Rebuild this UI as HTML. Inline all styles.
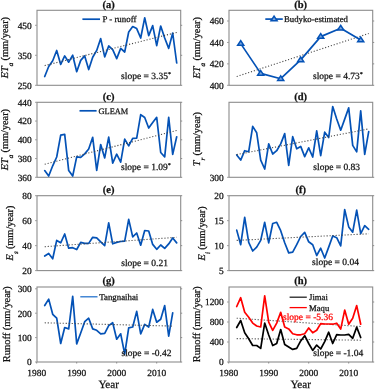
<!DOCTYPE html>
<html><head><meta charset="utf-8"><style>
html,body{margin:0;padding:0;background:#fff;}
svg{display:block;will-change:transform;}
text{font-family:"Liberation Serif", serif;fill:#111;stroke:#111;stroke-width:0.25px;text-rendering:geometricPrecision;}
</style></head><body>
<svg width="375" height="389" viewBox="0 0 375 389">
<rect width="375" height="389" fill="#fff"/>
<rect x="37.00" y="10.30" width="143.70" height="75.00" fill="none" stroke="#8c8c8c" stroke-width="1.1"/>
<line x1="35.20" y1="85.30" x2="36.70" y2="85.30" stroke="#8c8c8c" stroke-width="1"/>
<line x1="180.70" y1="85.30" x2="182.20" y2="85.30" stroke="#8c8c8c" stroke-width="1"/>
<text x="31.70" y="88.60" text-anchor="end" font-size="9.4">250</text>
<line x1="35.20" y1="55.30" x2="36.70" y2="55.30" stroke="#8c8c8c" stroke-width="1"/>
<line x1="180.70" y1="55.30" x2="182.20" y2="55.30" stroke="#8c8c8c" stroke-width="1"/>
<text x="31.70" y="58.60" text-anchor="end" font-size="9.4">350</text>
<line x1="35.20" y1="25.30" x2="36.70" y2="25.30" stroke="#8c8c8c" stroke-width="1"/>
<line x1="180.70" y1="25.30" x2="182.20" y2="25.30" stroke="#8c8c8c" stroke-width="1"/>
<text x="31.70" y="28.60" text-anchor="end" font-size="9.4">450</text>
<text x="108.70" y="7.50" text-anchor="middle" font-size="10.5" font-weight="bold">(a)</text>
<polyline points="44.70,76.50 48.70,66.50 52.70,60.80 56.70,50.50 60.70,64.40 64.70,55.90 68.70,62.20 72.70,55.20 76.70,71.70 80.70,60.40 84.70,55.90 88.70,69.60 92.70,57.30 96.70,50.40 100.70,38.60 104.70,56.90 108.70,46.00 112.70,49.60 116.70,58.60 120.70,48.40 124.70,52.00 128.70,32.00 132.70,26.60 136.70,28.60 140.70,38.00 144.70,17.80 148.70,35.60 152.70,25.60 156.70,45.60 160.70,26.00 164.70,38.00 168.70,48.40 172.70,33.00 176.70,63.00" fill="none" stroke="#0452b6" stroke-width="1.7" stroke-linejoin="round" stroke-linecap="round"/>
<line x1="44.70" y1="65.60" x2="176.70" y2="32.43" stroke="#444" stroke-width="1.1" stroke-dasharray="1.1 1.9"/>
<line x1="82.40" y1="19.20" x2="100.00" y2="19.20" stroke="#0452b6" stroke-width="1.7"/>
<text x="102.40" y="22.40" font-size="8.9">P - runoff</text>
<text x="121.10" y="78.70" font-size="9.5">slope = 3.35<tspan font-size="6" dy="-3.2">*</tspan></text>
<text transform="translate(8.40,47.60) rotate(-90)" text-anchor="middle" font-size="10.3"><tspan font-style="italic">ET</tspan><tspan font-style="italic" font-size="7" dx="0.0" dy="5.0">a</tspan><tspan dx="-0.3" dy="-5.0"> (mm/year)</tspan></text>
<rect x="229.00" y="10.30" width="143.70" height="75.00" fill="none" stroke="#8c8c8c" stroke-width="1.1"/>
<line x1="227.20" y1="85.30" x2="228.70" y2="85.30" stroke="#8c8c8c" stroke-width="1"/>
<line x1="372.70" y1="85.30" x2="374.20" y2="85.30" stroke="#8c8c8c" stroke-width="1"/>
<text x="223.70" y="88.60" text-anchor="end" font-size="9.4">400</text>
<line x1="227.20" y1="63.87" x2="228.70" y2="63.87" stroke="#8c8c8c" stroke-width="1"/>
<line x1="372.70" y1="63.87" x2="374.20" y2="63.87" stroke="#8c8c8c" stroke-width="1"/>
<text x="223.70" y="67.17" text-anchor="end" font-size="9.4">420</text>
<line x1="227.20" y1="42.44" x2="228.70" y2="42.44" stroke="#8c8c8c" stroke-width="1"/>
<line x1="372.70" y1="42.44" x2="374.20" y2="42.44" stroke="#8c8c8c" stroke-width="1"/>
<text x="223.70" y="45.74" text-anchor="end" font-size="9.4">440</text>
<line x1="227.20" y1="21.01" x2="228.70" y2="21.01" stroke="#8c8c8c" stroke-width="1"/>
<line x1="372.70" y1="21.01" x2="374.20" y2="21.01" stroke="#8c8c8c" stroke-width="1"/>
<text x="223.70" y="24.31" text-anchor="end" font-size="9.4">460</text>
<text x="300.70" y="7.50" text-anchor="middle" font-size="10.5" font-weight="bold">(b)</text>
<line x1="236.70" y1="76.50" x2="368.70" y2="33.50" stroke="#444" stroke-width="1.1" stroke-dasharray="1.1 1.9"/>
<polyline points="240.70,43.60 260.70,73.40 280.70,78.70 300.70,59.90 320.70,36.60 340.70,28.30 360.70,40.10" fill="none" stroke="#0452b6" stroke-width="1.7" stroke-linejoin="round"/>
<polygon points="240.70,40.70 237.65,45.35 243.75,45.35" fill="#7ba6de" stroke="#0452b6" stroke-width="1.5" stroke-linejoin="miter"/>
<polygon points="260.70,70.50 257.65,75.15 263.75,75.15" fill="#7ba6de" stroke="#0452b6" stroke-width="1.5" stroke-linejoin="miter"/>
<polygon points="280.70,75.80 277.65,80.45 283.75,80.45" fill="#7ba6de" stroke="#0452b6" stroke-width="1.5" stroke-linejoin="miter"/>
<polygon points="300.70,57.00 297.65,61.65 303.75,61.65" fill="#7ba6de" stroke="#0452b6" stroke-width="1.5" stroke-linejoin="miter"/>
<polygon points="320.70,33.70 317.65,38.35 323.75,38.35" fill="#7ba6de" stroke="#0452b6" stroke-width="1.5" stroke-linejoin="miter"/>
<polygon points="340.70,25.40 337.65,30.05 343.75,30.05" fill="#7ba6de" stroke="#0452b6" stroke-width="1.5" stroke-linejoin="miter"/>
<polygon points="360.70,37.20 357.65,41.85 363.75,41.85" fill="#7ba6de" stroke="#0452b6" stroke-width="1.5" stroke-linejoin="miter"/>
<line x1="265.30" y1="19.10" x2="282.80" y2="19.10" stroke="#0452b6" stroke-width="1.7"/>
<polygon points="274.05,16.20 271.00,20.85 277.10,20.85" fill="#7ba6de" stroke="#0452b6" stroke-width="1.5" stroke-linejoin="miter"/>
<text x="284.00" y="22.30" font-size="8.72">Budyko-estimated</text>
<text x="313.00" y="78.70" font-size="9.5">slope = 4.73<tspan font-size="6" dy="-3.2">*</tspan></text>
<text transform="translate(199.80,47.80) rotate(-90)" text-anchor="middle" font-size="10.3"><tspan font-style="italic">ET</tspan><tspan font-style="italic" font-size="7" dx="0.0" dy="5.0">a</tspan><tspan dx="-0.3" dy="-5.0"> (mm/year)</tspan></text>
<rect x="37.00" y="102.30" width="143.70" height="75.00" fill="none" stroke="#8c8c8c" stroke-width="1.1"/>
<line x1="35.20" y1="177.30" x2="36.70" y2="177.30" stroke="#8c8c8c" stroke-width="1"/>
<line x1="180.70" y1="177.30" x2="182.20" y2="177.30" stroke="#8c8c8c" stroke-width="1"/>
<text x="31.70" y="180.60" text-anchor="end" font-size="9.4">360</text>
<line x1="35.20" y1="158.55" x2="36.70" y2="158.55" stroke="#8c8c8c" stroke-width="1"/>
<line x1="180.70" y1="158.55" x2="182.20" y2="158.55" stroke="#8c8c8c" stroke-width="1"/>
<text x="31.70" y="161.85" text-anchor="end" font-size="9.4">380</text>
<line x1="35.20" y1="139.80" x2="36.70" y2="139.80" stroke="#8c8c8c" stroke-width="1"/>
<line x1="180.70" y1="139.80" x2="182.20" y2="139.80" stroke="#8c8c8c" stroke-width="1"/>
<text x="31.70" y="143.10" text-anchor="end" font-size="9.4">400</text>
<line x1="35.20" y1="121.05" x2="36.70" y2="121.05" stroke="#8c8c8c" stroke-width="1"/>
<line x1="180.70" y1="121.05" x2="182.20" y2="121.05" stroke="#8c8c8c" stroke-width="1"/>
<text x="31.70" y="124.35" text-anchor="end" font-size="9.4">420</text>
<line x1="35.20" y1="102.30" x2="36.70" y2="102.30" stroke="#8c8c8c" stroke-width="1"/>
<line x1="180.70" y1="102.30" x2="182.20" y2="102.30" stroke="#8c8c8c" stroke-width="1"/>
<text x="31.70" y="105.60" text-anchor="end" font-size="9.4">440</text>
<text x="108.70" y="99.50" text-anchor="middle" font-size="10.5" font-weight="bold">(c)</text>
<polyline points="44.70,170.60 48.70,176.00 52.70,165.80 56.70,157.00 60.70,135.20 64.70,134.30 68.70,170.60 72.70,176.00 76.70,156.80 80.70,157.40 84.70,153.90 88.70,149.00 92.70,137.30 96.70,170.40 100.70,144.50 104.70,157.90 108.70,137.10 112.70,163.20 116.70,154.20 120.70,162.20 124.70,139.10 128.70,145.90 132.70,138.40 136.70,138.20 140.70,114.60 144.70,117.50 148.70,128.00 152.70,122.50 156.70,117.30 160.70,152.50 164.70,156.80 168.70,117.30 172.70,154.40 176.70,136.80" fill="none" stroke="#0452b6" stroke-width="1.7" stroke-linejoin="round" stroke-linecap="round"/>
<line x1="44.70" y1="164.20" x2="176.70" y2="130.50" stroke="#444" stroke-width="1.1" stroke-dasharray="1.1 1.9"/>
<line x1="79.50" y1="110.80" x2="96.60" y2="110.80" stroke="#0452b6" stroke-width="1.7"/>
<text x="98.60" y="114.00" font-size="8.35">GLEAM</text>
<text x="121.00" y="170.20" font-size="9.5">slope = 1.09<tspan font-size="6" dy="-3.2">*</tspan></text>
<text transform="translate(8.40,139.60) rotate(-90)" text-anchor="middle" font-size="10.3"><tspan font-style="italic">ET</tspan><tspan font-style="italic" font-size="7" dx="0.0" dy="5.0">a</tspan><tspan dx="-0.3" dy="-5.0"> (mm/year)</tspan></text>
<rect x="229.00" y="102.30" width="143.70" height="75.00" fill="none" stroke="#8c8c8c" stroke-width="1.1"/>
<line x1="227.20" y1="177.30" x2="228.70" y2="177.30" stroke="#8c8c8c" stroke-width="1"/>
<line x1="372.70" y1="177.30" x2="374.20" y2="177.30" stroke="#8c8c8c" stroke-width="1"/>
<text x="223.70" y="180.60" text-anchor="end" font-size="9.4">300</text>
<text x="300.70" y="99.50" text-anchor="middle" font-size="10.5" font-weight="bold">(d)</text>
<polyline points="236.70,155.00 240.70,160.10 244.70,150.70 248.70,151.70 252.70,126.40 256.70,132.80 260.70,160.10 264.70,169.00 268.70,143.90 272.70,154.00 276.70,150.70 280.70,143.90 284.70,133.60 288.70,165.40 292.70,136.70 296.70,148.80 300.70,146.40 304.70,156.60 308.70,147.80 312.70,157.00 316.70,130.80 320.70,155.60 324.70,132.20 328.70,137.50 332.70,106.50 336.70,119.00 340.70,130.20 344.70,119.10 348.70,107.90 352.70,145.40 356.70,151.90 360.70,110.80 364.70,154.40 368.70,131.70" fill="none" stroke="#0452b6" stroke-width="1.7" stroke-linejoin="round" stroke-linecap="round"/>
<line x1="236.70" y1="154.60" x2="368.70" y2="128.90" stroke="#444" stroke-width="1.1" stroke-dasharray="1.1 1.9"/>
<text x="313.30" y="170.40" font-size="9.5">slope = 0.83</text>
<text transform="translate(199.80,139.20) rotate(-90)" text-anchor="middle" font-size="10.3"><tspan font-style="italic">T</tspan><tspan font-style="italic" font-size="7" dx="0.0" dy="5.0">r</tspan><tspan dx="-0.3" dy="-5.0"> (mm/year)</tspan></text>
<rect x="37.00" y="195.70" width="143.70" height="74.90" fill="none" stroke="#8c8c8c" stroke-width="1.1"/>
<line x1="35.20" y1="270.60" x2="36.70" y2="270.60" stroke="#8c8c8c" stroke-width="1"/>
<line x1="180.70" y1="270.60" x2="182.20" y2="270.60" stroke="#8c8c8c" stroke-width="1"/>
<text x="31.70" y="273.90" text-anchor="end" font-size="9.4">20</text>
<line x1="35.20" y1="245.63" x2="36.70" y2="245.63" stroke="#8c8c8c" stroke-width="1"/>
<line x1="180.70" y1="245.63" x2="182.20" y2="245.63" stroke="#8c8c8c" stroke-width="1"/>
<text x="31.70" y="248.93" text-anchor="end" font-size="9.4">40</text>
<line x1="35.20" y1="220.67" x2="36.70" y2="220.67" stroke="#8c8c8c" stroke-width="1"/>
<line x1="180.70" y1="220.67" x2="182.20" y2="220.67" stroke="#8c8c8c" stroke-width="1"/>
<text x="31.70" y="223.97" text-anchor="end" font-size="9.4">60</text>
<line x1="35.20" y1="195.70" x2="36.70" y2="195.70" stroke="#8c8c8c" stroke-width="1"/>
<line x1="180.70" y1="195.70" x2="182.20" y2="195.70" stroke="#8c8c8c" stroke-width="1"/>
<text x="31.70" y="199.00" text-anchor="end" font-size="9.4">80</text>
<text x="108.70" y="192.90" text-anchor="middle" font-size="10.5" font-weight="bold">(e)</text>
<polyline points="44.70,256.00 48.70,253.50 52.70,258.80 56.70,240.40 60.70,242.80 64.70,234.00 68.70,248.20 72.70,247.70 76.70,249.50 80.70,242.40 84.70,243.40 88.70,243.40 92.70,237.30 96.70,237.90 100.70,241.80 104.70,245.70 108.70,222.90 112.70,243.80 116.70,242.40 120.70,241.50 124.70,241.20 128.70,219.40 132.70,236.90 136.70,233.00 140.70,245.20 144.70,230.50 148.70,231.00 152.70,244.40 156.70,249.30 160.70,245.00 164.70,248.40 168.70,243.90 172.70,238.00 176.70,242.90" fill="none" stroke="#0452b6" stroke-width="1.7" stroke-linejoin="round" stroke-linecap="round"/>
<line x1="44.70" y1="246.70" x2="176.70" y2="237.30" stroke="#444" stroke-width="1.1" stroke-dasharray="1.1 1.9"/>
<text x="121.20" y="265.60" font-size="9.5">slope = 0.21</text>
<text transform="translate(13.00,233.00) rotate(-90)" text-anchor="middle" font-size="10.3"><tspan font-style="italic">E</tspan><tspan font-style="italic" font-size="7" dx="0.0" dy="5.0">s</tspan><tspan dx="-0.3" dy="-5.0"> (mm/year)</tspan></text>
<rect x="229.00" y="195.70" width="143.70" height="74.90" fill="none" stroke="#8c8c8c" stroke-width="1.1"/>
<line x1="227.20" y1="270.60" x2="228.70" y2="270.60" stroke="#8c8c8c" stroke-width="1"/>
<line x1="372.70" y1="270.60" x2="374.20" y2="270.60" stroke="#8c8c8c" stroke-width="1"/>
<text x="223.70" y="273.90" text-anchor="end" font-size="9.4">5</text>
<line x1="227.20" y1="245.63" x2="228.70" y2="245.63" stroke="#8c8c8c" stroke-width="1"/>
<line x1="372.70" y1="245.63" x2="374.20" y2="245.63" stroke="#8c8c8c" stroke-width="1"/>
<text x="223.70" y="248.93" text-anchor="end" font-size="9.4">10</text>
<line x1="227.20" y1="220.67" x2="228.70" y2="220.67" stroke="#8c8c8c" stroke-width="1"/>
<line x1="372.70" y1="220.67" x2="374.20" y2="220.67" stroke="#8c8c8c" stroke-width="1"/>
<text x="223.70" y="223.97" text-anchor="end" font-size="9.4">15</text>
<line x1="227.20" y1="195.70" x2="228.70" y2="195.70" stroke="#8c8c8c" stroke-width="1"/>
<line x1="372.70" y1="195.70" x2="374.20" y2="195.70" stroke="#8c8c8c" stroke-width="1"/>
<text x="223.70" y="199.00" text-anchor="end" font-size="9.4">20</text>
<text x="300.70" y="192.90" text-anchor="middle" font-size="10.5" font-weight="bold">(f)</text>
<polyline points="236.70,230.10 240.70,244.70 244.70,217.40 248.70,242.40 252.70,251.00 256.70,247.10 260.70,240.40 264.70,222.30 268.70,242.80 272.70,223.50 276.70,222.30 280.70,230.70 284.70,242.80 288.70,252.90 292.70,252.10 296.70,244.70 300.70,236.50 304.70,232.30 308.70,241.80 312.70,244.70 316.70,255.50 320.70,248.20 324.70,258.00 328.70,247.10 332.70,236.00 336.70,237.70 340.70,245.80 344.70,209.70 348.70,226.90 352.70,232.20 356.70,210.10 360.70,233.60 364.70,225.70 368.70,229.30" fill="none" stroke="#0452b6" stroke-width="1.7" stroke-linejoin="round" stroke-linecap="round"/>
<line x1="236.70" y1="240.40" x2="368.70" y2="233.80" stroke="#444" stroke-width="1.1" stroke-dasharray="1.1 1.9"/>
<text x="312.10" y="265.30" font-size="9.5">slope = 0.04</text>
<text transform="translate(205.00,233.40) rotate(-90)" text-anchor="middle" font-size="10.3"><tspan font-style="italic">E</tspan><tspan font-style="italic" font-size="7" dx="0.0" dy="5.0">i</tspan><tspan dx="-0.3" dy="-5.0"> (mm/year)</tspan></text>
<rect x="37.00" y="287.00" width="143.70" height="75.00" fill="none" stroke="#8c8c8c" stroke-width="1.1"/>
<line x1="36.70" y1="362.00" x2="36.70" y2="363.50" stroke="#8c8c8c" stroke-width="1"/>
<text x="36.70" y="375.60" text-anchor="middle" font-size="9.4">1980</text>
<line x1="76.70" y1="362.00" x2="76.70" y2="363.50" stroke="#8c8c8c" stroke-width="1"/>
<text x="76.70" y="375.60" text-anchor="middle" font-size="9.4">1990</text>
<line x1="116.70" y1="362.00" x2="116.70" y2="363.50" stroke="#8c8c8c" stroke-width="1"/>
<text x="116.70" y="375.60" text-anchor="middle" font-size="9.4">2000</text>
<line x1="156.70" y1="362.00" x2="156.70" y2="363.50" stroke="#8c8c8c" stroke-width="1"/>
<text x="156.70" y="375.60" text-anchor="middle" font-size="9.4">2010</text>
<line x1="35.20" y1="362.00" x2="36.70" y2="362.00" stroke="#8c8c8c" stroke-width="1"/>
<line x1="180.70" y1="362.00" x2="182.20" y2="362.00" stroke="#8c8c8c" stroke-width="1"/>
<text x="31.70" y="365.30" text-anchor="end" font-size="9.4">0</text>
<line x1="35.20" y1="337.60" x2="36.70" y2="337.60" stroke="#8c8c8c" stroke-width="1"/>
<line x1="180.70" y1="337.60" x2="182.20" y2="337.60" stroke="#8c8c8c" stroke-width="1"/>
<text x="31.70" y="340.90" text-anchor="end" font-size="9.4">100</text>
<line x1="35.20" y1="313.20" x2="36.70" y2="313.20" stroke="#8c8c8c" stroke-width="1"/>
<line x1="180.70" y1="313.20" x2="182.20" y2="313.20" stroke="#8c8c8c" stroke-width="1"/>
<text x="31.70" y="316.50" text-anchor="end" font-size="9.4">200</text>
<line x1="35.20" y1="288.80" x2="36.70" y2="288.80" stroke="#8c8c8c" stroke-width="1"/>
<line x1="180.70" y1="288.80" x2="182.20" y2="288.80" stroke="#8c8c8c" stroke-width="1"/>
<text x="31.70" y="292.10" text-anchor="end" font-size="9.4">300</text>
<text x="108.70" y="284.20" text-anchor="middle" font-size="10.5" font-weight="bold">(g)</text>
<polyline points="44.70,305.50 48.70,299.10 52.70,314.30 56.70,318.20 60.70,343.50 64.70,327.50 68.70,328.90 72.70,296.40 76.70,343.90 80.70,333.00 84.70,321.70 88.70,318.20 92.70,328.90 96.70,330.30 100.70,333.80 104.70,333.40 108.70,325.60 112.70,322.70 116.70,339.20 120.70,333.80 124.70,354.00 128.70,327.90 132.70,327.00 136.70,311.40 140.70,333.80 144.70,324.40 148.70,327.00 152.70,309.40 156.70,322.20 160.70,319.20 164.70,305.60 168.70,336.20 172.70,312.80" fill="none" stroke="#0452b6" stroke-width="1.7" stroke-linejoin="round" stroke-linecap="round"/>
<line x1="44.70" y1="322.80" x2="172.70" y2="326.10" stroke="#444" stroke-width="1.1" stroke-dasharray="1.1 1.9"/>
<line x1="80.30" y1="296.80" x2="97.50" y2="296.80" stroke="#1f6fcc" stroke-width="1.25"/>
<text x="99.30" y="300.00" font-size="8.8">Tangnaihai</text>
<text x="121.50" y="355.60" font-size="9.5">slope = -0.42</text>
<text transform="translate(9.60,324.20) rotate(-90)" text-anchor="middle" font-size="10.45">Runoff (mm/year)</text>
<rect x="229.00" y="287.00" width="143.70" height="75.00" fill="none" stroke="#8c8c8c" stroke-width="1.1"/>
<line x1="228.70" y1="362.00" x2="228.70" y2="363.50" stroke="#8c8c8c" stroke-width="1"/>
<text x="228.70" y="375.60" text-anchor="middle" font-size="9.4">1980</text>
<line x1="268.70" y1="362.00" x2="268.70" y2="363.50" stroke="#8c8c8c" stroke-width="1"/>
<text x="268.70" y="375.60" text-anchor="middle" font-size="9.4">1990</text>
<line x1="308.70" y1="362.00" x2="308.70" y2="363.50" stroke="#8c8c8c" stroke-width="1"/>
<text x="308.70" y="375.60" text-anchor="middle" font-size="9.4">2000</text>
<line x1="348.70" y1="362.00" x2="348.70" y2="363.50" stroke="#8c8c8c" stroke-width="1"/>
<text x="348.70" y="375.60" text-anchor="middle" font-size="9.4">2010</text>
<line x1="227.20" y1="362.00" x2="228.70" y2="362.00" stroke="#8c8c8c" stroke-width="1"/>
<line x1="372.70" y1="362.00" x2="374.20" y2="362.00" stroke="#8c8c8c" stroke-width="1"/>
<text x="223.70" y="365.30" text-anchor="end" font-size="9.4">0</text>
<line x1="227.20" y1="342.00" x2="228.70" y2="342.00" stroke="#8c8c8c" stroke-width="1"/>
<line x1="372.70" y1="342.00" x2="374.20" y2="342.00" stroke="#8c8c8c" stroke-width="1"/>
<text x="223.70" y="345.30" text-anchor="end" font-size="9.4">400</text>
<line x1="227.20" y1="322.00" x2="228.70" y2="322.00" stroke="#8c8c8c" stroke-width="1"/>
<line x1="372.70" y1="322.00" x2="374.20" y2="322.00" stroke="#8c8c8c" stroke-width="1"/>
<text x="223.70" y="325.30" text-anchor="end" font-size="9.4">800</text>
<line x1="227.20" y1="302.00" x2="228.70" y2="302.00" stroke="#8c8c8c" stroke-width="1"/>
<line x1="372.70" y1="302.00" x2="374.20" y2="302.00" stroke="#8c8c8c" stroke-width="1"/>
<text x="223.70" y="305.30" text-anchor="end" font-size="9.4">1200</text>
<text x="300.70" y="284.20" text-anchor="middle" font-size="10.5" font-weight="bold">(h)</text>
<line x1="236.70" y1="318.20" x2="360.70" y2="326.50" stroke="#444" stroke-width="1.1" stroke-dasharray="1.1 1.9"/>
<line x1="236.70" y1="338.60" x2="360.70" y2="340.20" stroke="#444" stroke-width="1.1" stroke-dasharray="1.1 1.9"/>
<polyline points="236.70,306.50 240.70,297.70 244.70,312.30 248.70,317.20 252.70,323.10 256.70,326.00 260.70,327.00 264.70,295.80 268.70,322.10 272.70,330.30 276.70,323.10 280.70,312.30 284.70,327.00 288.70,328.90 292.70,333.80 296.70,334.80 300.70,334.80 304.70,333.80 308.70,328.00 312.70,332.80 316.70,330.30 320.70,323.60 324.70,324.00 328.70,324.00 332.70,324.20 336.70,323.20 340.70,329.10 344.70,310.10 348.70,324.20 352.70,318.30 356.70,305.60 360.70,324.20" fill="none" stroke="#ff0000" stroke-width="1.7" stroke-linejoin="round" stroke-linecap="round"/>
<polyline points="236.70,327.50 240.70,320.50 244.70,332.80 248.70,338.70 252.70,345.50 256.70,345.50 260.70,348.40 264.70,323.10 268.70,335.00 272.70,345.50 276.70,343.50 280.70,329.50 284.70,344.50 288.70,347.00 292.70,349.40 296.70,348.40 300.70,340.90 304.70,335.70 308.70,343.50 312.70,350.40 316.70,345.10 320.70,349.00 324.70,341.60 328.70,332.20 332.70,343.50 336.70,334.60 340.70,335.00 344.70,335.00 348.70,334.40 352.70,338.30 356.70,327.10 360.70,337.50" fill="none" stroke="#000000" stroke-width="1.7" stroke-linejoin="round" stroke-linecap="round"/>
<line x1="289.60" y1="297.20" x2="306.80" y2="297.20" stroke="#222" stroke-width="1.3"/>
<text x="309.10" y="300.40" font-size="8.65">Jimai</text>
<line x1="289.60" y1="307.60" x2="306.80" y2="307.60" stroke="#ff0000" stroke-width="1.3"/>
<text x="309.10" y="310.80" font-size="8.65">Maqu</text>
<text x="283.00" y="319.90" font-size="9.5" style="fill:#ff0000;stroke:#ff0000">slope = -5.36</text>
<text x="313.30" y="355.60" font-size="9.5">slope = -1.04</text>
<text transform="translate(199.80,324.20) rotate(-90)" text-anchor="middle" font-size="10.45">Runoff (mm/year)</text>
<text x="108.70" y="388.2" text-anchor="middle" font-size="11.2">Year</text>
<text x="300.70" y="388.2" text-anchor="middle" font-size="11.2">Year</text>
</svg>
</body></html>
